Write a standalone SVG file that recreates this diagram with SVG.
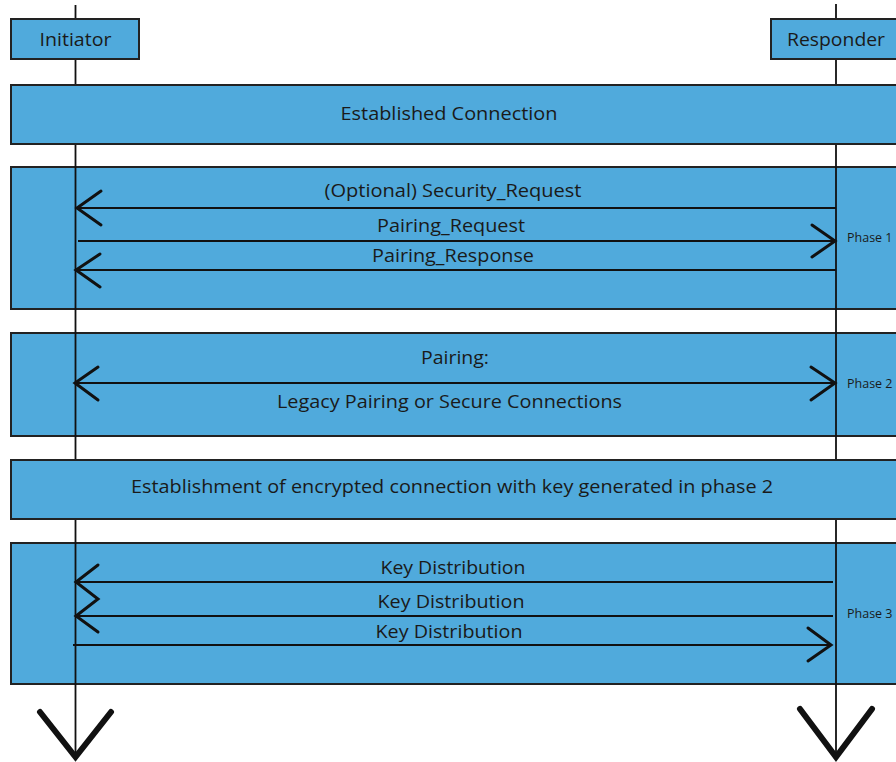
<svg xmlns="http://www.w3.org/2000/svg" width="896" height="762" viewBox="0 0 896 762">
<style>
.box{fill:#50aadc;stroke:#222;stroke-width:2}
.life{stroke:#111;stroke-width:1.8;fill:none}
.msg{stroke:#111;stroke-width:2;fill:none}
.head{stroke:#111;stroke-width:3;fill:none;stroke-linecap:round;stroke-linejoin:miter}
.big{stroke:#111;stroke-width:6;fill:none;stroke-linecap:round;stroke-linejoin:miter}
.t{font-family:"Open Sans","Noto Sans","Liberation Sans",sans-serif;font-size:18px;fill:#1a1a1a;text-anchor:middle}
.p{font-family:"Open Sans","Noto Sans","Liberation Sans",sans-serif;font-size:12.5px;fill:#1a1a1a}
</style>
<rect width="896" height="762" fill="#fff"/>
<g id="phase1"><rect class="box" x="11" y="167" width="900" height="142"/><text class="p" x="847" y="242">Phase 1</text></g>
<g id="phase2"><rect class="box" x="11" y="333" width="900" height="103"/><text class="p" x="847" y="388">Phase 2</text></g>
<g id="phase3"><rect class="box" x="11" y="543" width="900" height="141"/><text class="p" x="847" y="618">Phase 3</text></g>
<g id="connectors">
<line class="life" x1="75.5" y1="5" x2="75.5" y2="756"/>
<line class="life" x1="836" y1="4" x2="836" y2="756"/>
<line class="msg" x1="77" y1="208" x2="836" y2="208"/>
<polyline class="head" points="101,191 77,208 101,225"/>
<line class="msg" x1="78" y1="241" x2="836" y2="241"/>
<polyline class="head" points="812,225 835,241 812,257"/>
<line class="msg" x1="76" y1="270" x2="836" y2="270"/>
<polyline class="head" points="100,254 76,270 100,287"/>
<line class="msg" x1="75" y1="383" x2="836" y2="383"/>
<polyline class="head" points="98,367 75,383 98,400"/>
<polyline class="head" points="811,367 835,383 811,400"/>
<line class="msg" x1="76" y1="582" x2="833" y2="582"/>
<polyline class="head" points="98,565 76,582 98,599 76,616 98,632"/>
<line class="msg" x1="76" y1="616" x2="833" y2="616"/>
<line class="msg" x1="73" y1="645" x2="832" y2="645"/>
<polyline class="head" points="808,628 831,645 808,661"/>
<polyline class="big" points="40,712 75.5,757 111,712"/>
<polyline class="big" points="800,709 836,757 872,709"/>
</g>
<g id="initiator"><rect class="box" x="11" y="19" width="128" height="40"/><text class="t" x="75.5" y="46" textLength="72" lengthAdjust="spacingAndGlyphs">Initiator</text></g>
<g id="responder"><rect class="box" x="771" y="19" width="140" height="40"/><text class="t" x="836" y="46" textLength="98" lengthAdjust="spacingAndGlyphs">Responder</text></g>
<g id="established"><rect class="box" x="11" y="85" width="900" height="59"/><text class="t" x="449" y="120" textLength="217" lengthAdjust="spacingAndGlyphs">Established Connection</text></g>
<g id="encrypt"><rect class="box" x="11" y="460" width="900" height="59"/><text class="t" x="452" y="493" textLength="642" lengthAdjust="spacingAndGlyphs">Establishment of encrypted connection with key generated in phase 2</text></g>
<g id="labels">
<text class="t" x="453" y="197" textLength="257" lengthAdjust="spacingAndGlyphs">(Optional) Security_Request</text>
<text class="t" x="451" y="232" textLength="148" lengthAdjust="spacingAndGlyphs">Pairing_Request</text>
<text class="t" x="453" y="262" textLength="162" lengthAdjust="spacingAndGlyphs">Pairing_Response</text>
<text class="t" x="455" y="364" textLength="68" lengthAdjust="spacingAndGlyphs">Pairing:</text>
<text class="t" x="449.5" y="408" textLength="345" lengthAdjust="spacingAndGlyphs">Legacy Pairing or Secure Connections</text>
<text class="t" x="453" y="574" textLength="145" lengthAdjust="spacingAndGlyphs">Key Distribution</text>
<text class="t" x="451" y="608" textLength="147" lengthAdjust="spacingAndGlyphs">Key Distribution</text>
<text class="t" x="449" y="638" textLength="147" lengthAdjust="spacingAndGlyphs">Key Distribution</text>
</g>
</svg>
